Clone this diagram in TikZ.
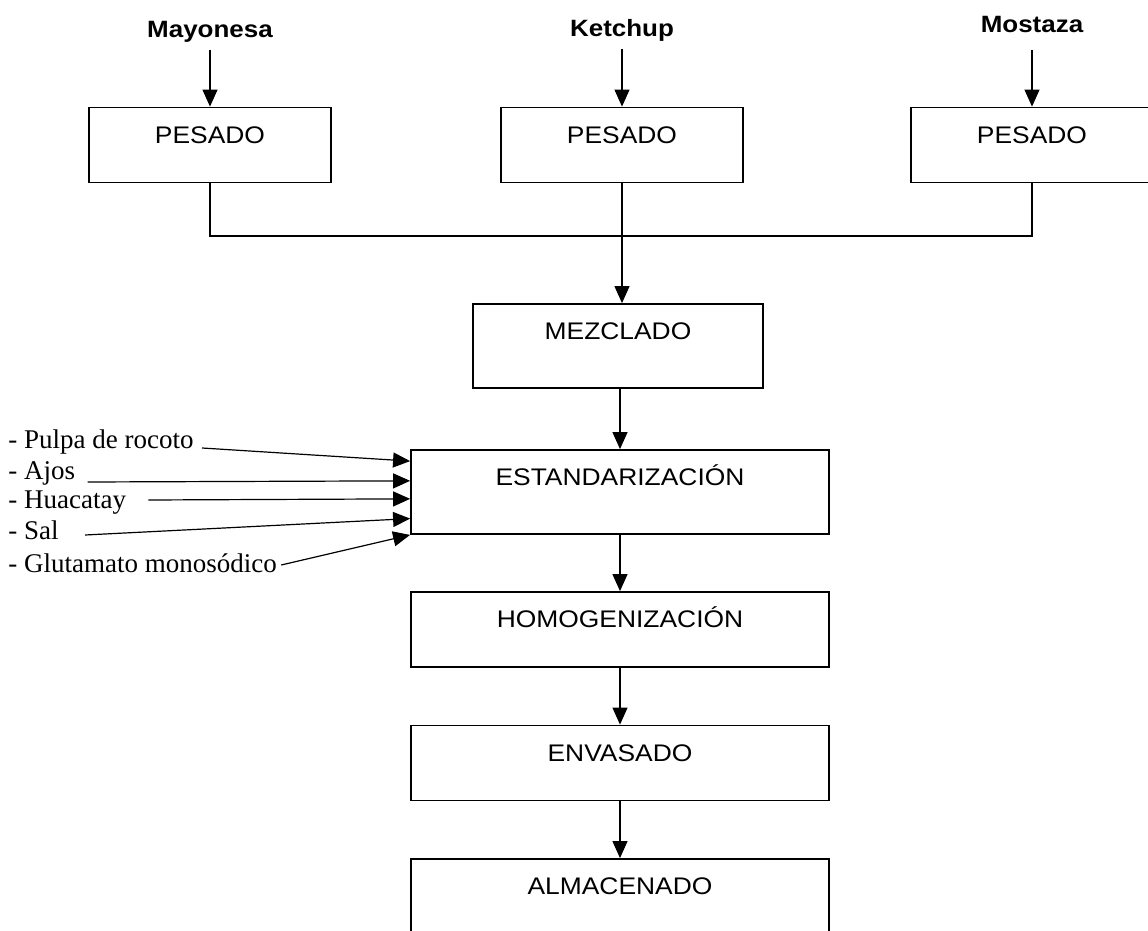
\documentclass[tikz,border=0pt]{standalone}
\usepackage{fontspec}
\setmainfont{Liberation Sans}[FakeStretch=1.1]
\newfontfamily\ingredfont{Liberation Serif}
\usetikzlibrary{
  calc,
  positioning,
  arrows.meta
}

\begin{document}
\begin{tikzpicture}[x=0.5pt, y=-0.5pt, >={Triangle[length=8.5pt,width=7.5pt]}]
  \tikzset{
    stage/.style={draw, line width=0.9pt, inner sep=2pt, text height=8.6pt,
      minimum height=37.5pt, text depth=10.5pt,
      font=\fontsize{12}{14}\selectfont},
    weighbox/.style={stage, minimum width=121pt},
    linebox/.style={stage, minimum width=209pt},
    deep/.style={minimum height=42pt, text depth=15pt},
    source/.style={anchor=base, text depth=2.5pt,
      font=\fontsize{11.8}{14}\selectfont\bfseries},
    ingred/.style={anchor=base west, inner sep=0pt,
      font=\ingredfont\fontsize{13.5}{15}\selectfont},
    link/.style={line width=0.6pt},
    flow/.style={link, ->},
  }
\clip (0,0) rectangle (1148,931);

% raw materials
\node[source] (may) at (210,38) {Mayonesa};
\node[source] (ket) at (622,37) {Ketchup};
\node[source] (mos) at (1032,33) {Mostaza};

\node[weighbox] (pm) at (210,145) {PESADO};
\node[weighbox] (pk) at (622,145) {PESADO};
\node[weighbox] (pt) at (1032,145) {PESADO};

\draw[flow] (may.south)--(pm.north);
\draw[flow] (ket.south)--(pk.north);
\draw[flow, shorten <=2.5pt] (mos.south)--(pt.north);

% process line
\node[stage, deep, minimum width=145pt] (mez) at (618,346) {MEZCLADO};
\node[linebox, deep] (est) at (620,492) {ESTANDARIZACIÓN};
\node[linebox] (hom) at (620,629.5) {HOMOGENIZACIÓN};
\node[linebox] (env) at (620,763) {ENVASADO};
\node[linebox] (alm) at (620,896.5) {ALMACENADO};

\coordinate (join) at (622,236);
\draw[link] (pm.south) |- (join) -| (pt.south);
\draw[flow] (pk.south)--(pk.south |- mez.north);
\draw[flow] (est.north |- mez.south)--(est.north);
\draw[flow] (est.south)--(hom.north);
\draw[flow] (hom.south)--(env.north);
\draw[flow] (env.south)--(alm.north);

% ingredients
\node[ingred] (pulpa) at (8,448) {- Pulpa de rocoto};
\node[ingred] (ajos) at (8,480) {- Ajos};
\node[ingred] (huac) at (8,509) {- Huacatay};
\node[ingred] (sal) at (8,539) {- Sal};
\node[ingred] (glut) at (8,572) {- Glutamato monosódico};

\draw[flow] ([xshift=4pt]pulpa.base east)--($(est.north west)!0.14!(est.south west)$);
\draw[flow] ([xshift=6pt,yshift=-1pt]ajos.base east)--($(est.north west)!0.37!(est.south west)$);
\draw[flow] ([xshift=11pt,yshift=4.5pt]huac.base east)--($(est.north west)!0.58!(est.south west)$);
\draw[flow] ([xshift=13pt,yshift=2pt]sal.base east)--($(est.north west)!0.81!(est.south west)$);
\draw[flow] ([xshift=2pt,yshift=3.5pt]glut.base east)--(est.south west);

\end{tikzpicture}
\end{document}
